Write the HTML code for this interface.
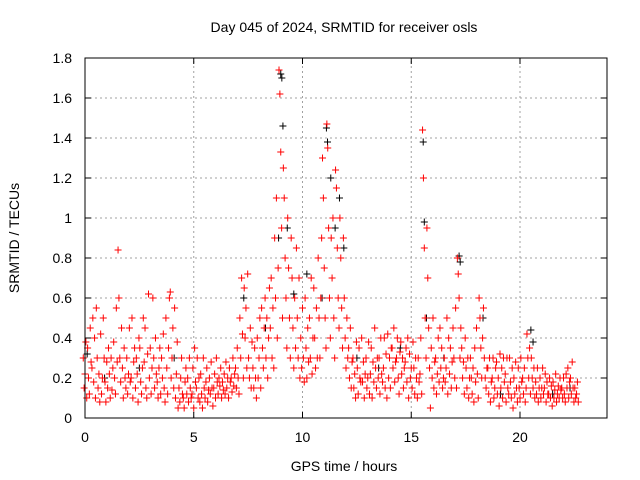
<!DOCTYPE html>
<html>
<head>
<meta charset="utf-8">
<style>
html,body{margin:0;padding:0;background:#fff;}
svg{display:block;font-family:"Liberation Sans",sans-serif;}
</style>
</head>
<body>
<svg id="chart" width="640" height="480" viewBox="0 0 640 480">
  <rect x="0" y="0" width="640" height="480" fill="#fff"/>
  <text x="344" y="32" text-anchor="middle" font-size="14" fill="#000">Day 045 of 2024, SRMTID for receiver osls</text>
  <g id="grid"></g>
  <g id="axes"></g>
  <g id="black-series"></g>
  <g id="red-series"></g>
  <rect x="85" y="58" width="522" height="360" fill="none" stroke="#000" stroke-width="1"/>
  <text x="344" y="471" text-anchor="middle" font-size="14" fill="#000">GPS time / hours</text>
  <text x="19" y="238" text-anchor="middle" font-size="14" fill="#000" transform="rotate(-90 19 238)">SRMTID / TECUs</text>
</svg>
<script>
const xTicks = [0, 5, 10, 15, 20];
const xTickLabels = ["0", "5", "10", "15", "20"];
const yTicks = [0, 0.2, 0.4, 0.6, 0.8, 1, 1.2, 1.4, 1.6, 1.8];
const yTickLabels = ["0", "0.2", "0.4", "0.6", "0.8", "1", "1.2", "1.4", "1.6", "1.8"];
const redTimes = [0,0.2,0.4,0.6,0.8,1.0,1.2,1.4,1.6,1.8,2.0,2.2,2.4,2.6,2.8,3.0,3.2,3.4,3.6,3.8,4.0,4.2,4.4,4.6,4.8,5.0,5.2,5.4,5.6,5.8,6.0,6.2,6.4,6.6,6.8,7.0,7.2,7.4,7.6,7.8,8.0,8.2,8.4,8.6,8.8,9.0,9.2,9.4,9.6,9.8,10.0,10.2,10.4,10.6,10.8,11.0,11.2,11.4,11.6,11.8,12.0,12.2,12.4,12.6,12.8,13.0,13.2,13.4,13.6,13.8,14.0,14.2,14.4,14.6,14.8,15.0,15.2,15.4,15.6,15.8,16.0,16.2,16.4,16.6,16.8,17.0,17.2,17.4,17.6,17.8,18.0,18.2,18.4,18.6,18.8,19.0,19.2,19.4,19.6,19.8,20.0,20.2,20.4,20.6,20.8,21.0,21.2,21.4,21.6,21.8,22.0,22.2,22.4,22.6];
const redValues = [
[.3,.15,.22,.38,.1],[.35,.2,.12,.45,.28],[.25,.5,.18,.4,.1],[.55,.3,.15,.22,.08],[.42,.12,.2,.5,.3],
[.18,.08,.28,.15,.35],[.22,.1,.3,.14,.25],[.38,.2,.12,.55,.28],[.84,.6,.3,.18,.45],[.25,.1,.35,.2,.15],
[.3,.12,.22,.45,.18],[.2,.5,.1,.28,.35],[.15,.3,.22,.08,.4],[.35,.18,.12,.25,.5],[.28,.45,.15,.1,.32],
[.62,.2,.35,.12,.25],[.6,.3,.15,.4,.22],[.18,.1,.25,.35,.12],[.3,.2,.42,.15,.08],[.5,.25,.12,.35,.6],
[.63,.2,.3,.45,.15],[.55,.1,.22,.38,.05],[.15,.08,.2,.3,.12],[.1,.05,.18,.25,.12],[.2,.08,.3,.15,.1],
[.12,.25,.05,.35,.18],[.15,.3,.1,.2,.08],[.22,.12,.05,.3,.15],[.1,.18,.25,.08,.14],[.2,.12,.28,.15,.06],
[.15,.22,.1,.3,.18],[.12,.2,.16,.25,.1],[.18,.14,.22,.12,.28],[.15,.2,.1,.25,.18],[.2,.13,.3,.16,.22],
[.25,.15,.35,.2,.12],[.5,.3,.7,.42,.2],[.65,.4,.55,.25,.72],[.3,.2,.45,.15,.38],[.25,.15,.35,.2,.1],
[.4,.2,.3,.5,.15],[.55,.35,.25,.45,.6],[.3,.5,.2,.4,.65],[.45,.7,.3,.55,.25],[.9,.6,1.1,.4,.75],
[1.74,1.62,1.33,.95,.5],[1.25,1.1,.8,.6,.35],[1.0,.75,.5,.3,.9],[.7,.45,.25,.6,.35],[.85,.5,.3,.7,.2],
[.4,.25,.55,.3,.18],[.6,.35,.2,.45,.28],[.5,.3,.7,.22,.4],[.65,.4,.25,.55,.3],[.8,.5,.3,.6,.9],
[1.3,1.1,.75,.5,.35],[1.47,1.35,.95,.6,.4],[.9,.7,1.0,.5,.3],[1.24,1.15,.85,.6,.45],[1.0,.8,.55,.35,.9],
[.6,.4,.25,.5,.3],[.35,.2,.45,.15,.28],[.3,.15,.22,.1,.38],[.25,.12,.35,.2,.18],[.4,.18,.28,.1,.22],
[.3,.15,.2,.38,.12],[.22,.35,.1,.28,.18],[.45,.25,.15,.3,.2],[.3,.12,.4,.22,.18],[.25,.4,.15,.32,.1],
[.42,.2,.3,.15,.35],[.35,.25,.45,.18,.28],[.3,.4,.2,.12,.33],[.38,.22,.3,.15,.25],[.28,.35,.18,.4,.1],
[.32,.2,.25,.15,.38],[.25,.12,.3,.2,.1],[.3,.18,.22,.4,.12],[1.44,1.2,.85,.5,.3],[.95,.7,.45,.25,.05],
[.35,.2,.5,.15,.28],[.3,.12,.22,.4,.18],[.45,.25,.35,.15,.2],[.3,.18,.25,.5,.12],[.4,.22,.35,.15,.28],
[.45,.3,.2,.55,.15],[.8,.72,.6,.3,.45],[.35,.2,.28,.12,.4],[.25,.15,.3,.1,.2],[.3,.2,.12,.25,.08],
[.35,.18,.45,.22,.1],[.6,.5,.35,.2,.4],[.55,.3,.2,.15,.25],[.25,.12,.3,.08,.18],[.2,.3,.1,.15,.25],
[.28,.12,.2,.06,.32],[.15,.25,.1,.3,.18],[.22,.08,.3,.15,.12],[.3,.18,.1,.25,.05],[.2,.12,.28,.15,.08],
[.25,.15,.1,.3,.18],[.2,.12,.25,.08,.15],[.42,.3,.2,.35,.12],[.3,.2,.15,.25,.1],[.18,.12,.25,.08,.15],
[.2,.1,.15,.25,.12],[.15,.22,.08,.18,.12],[.12,.2,.1,.16,.06],[.18,.1,.14,.22,.08],[.12,.16,.1,.2,.14],
[.15,.1,.2,.12,.08],[.22,.15,.25,.1,.18],[.2,.12,.28,.15,.08],[.15,.1,.12,.18,.08]
];
const blackTimes = [0.1,0.9,2.5,4.1,7.3,8.3,8.9,9.0,9.05,9.1,9.3,9.6,10.2,10.9,11.1,11.15,11.3,11.5,11.7,11.9,12.5,13.5,14.5,15.55,15.6,15.7,16.5,17.2,17.25,18.3,19.1,20.5,20.6,21.5,22.3];
const blackValues = [0.32,0.2,0.25,0.3,0.6,0.45,0.9,1.72,1.7,1.46,0.95,0.62,0.72,0.6,1.45,1.38,1.2,0.95,1.1,0.85,0.3,0.25,0.35,1.38,0.98,0.5,0.3,0.81,0.78,0.5,0.12,0.44,0.38,0.12,0.15];

const X0 = 85, X1 = 607, Y0 = 418, Y1 = 58, XMAX = 24, YMAX = 1.8;
const NS = "http://www.w3.org/2000/svg";
function xScale(t){ return X0 + (t / XMAX) * (X1 - X0); }
function yScale(v){ return Y0 - (v / YMAX) * (Y0 - Y1); }
function mk(tag, attrs, parent){
  const el = document.createElementNS(NS, tag);
  for (const k in attrs) el.setAttribute(k, attrs[k]);
  parent.appendChild(el);
  return el;
}
const grid = document.getElementById('grid');
const axes = document.getElementById('axes');
xTicks.forEach((t, i) => {
  const x = xScale(t);
  if (t > 0) {
    const g = mk('line', {x1:x, y1:Y0, x2:x, y2:Y1, stroke:'#a0a0a0', 'stroke-width':1, 'stroke-dasharray':'2,3'}, grid);
    
    
  }
  const tk = mk('path', {d:`M${x},${Y0}v-6M${x},${Y1}v6`, stroke:'#000', 'stroke-width':1}, axes);
  
  
  const lb = mk('text', {x:x, y:Y0 + 24, 'text-anchor':'middle', 'font-size':14, fill:'#000'}, axes);
  lb.textContent = xTickLabels[i];
  
  
});
yTicks.forEach((v, i) => {
  const y = yScale(v);
  if (v > 0 && v < YMAX) {
    const g = mk('line', {x1:X0, y1:y, x2:X1, y2:y, stroke:'#a0a0a0', 'stroke-width':1, 'stroke-dasharray':'2,3'}, grid);
    
    
  }
  const tk = mk('path', {d:`M${X0},${y}h6M${X1},${y}h-6`, stroke:'#000', 'stroke-width':1}, axes);
  
  
  const lb = mk('text', {x:X0 - 13, y:y + 5, 'text-anchor':'end', 'font-size':14, fill:'#000'}, axes);
  lb.textContent = yTickLabels[i];
  
  
});
function plus(x, y, color, parent, name){
  const p = mk('path', {d:`M${x-3.5},${y}h7M${x},${y-3.5}v7`, stroke:color, 'stroke-width':1, fill:'none'}, parent);
  
  
}
const bg = document.getElementById('black-series');
blackTimes.forEach((t, i) => plus(xScale(t), yScale(blackValues[i]), '#000', bg, 'black-point'));
const rg = document.getElementById('red-series');
redTimes.forEach((t, i) => {
  redValues[i].forEach((v, j) => {
    const dt = (j - 2) * 0.04;
    plus(xScale(t + dt), yScale(v), '#ff0000', rg, 'red-point');
  });
});
</script>
</body>
</html>
